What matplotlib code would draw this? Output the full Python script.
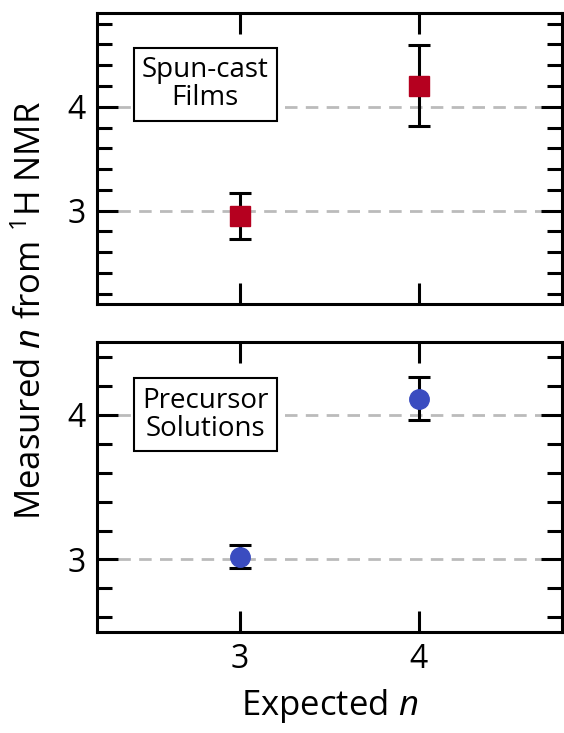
import matplotlib
matplotlib.use("Agg")
import matplotlib.pyplot as plt
from matplotlib.ticker import MultipleLocator

plt.rcParams['font.family'] = ['Open Sans', 'DejaVu Sans']
plt.rcParams['mathtext.fontset'] = 'custom'
plt.rcParams['mathtext.rm'] = 'Open Sans'
plt.rcParams['mathtext.it'] = 'Open Sans:italic'

# Data
expected_n = [3, 4]
films_measured = [2.95, 4.20]
films_err = [0.22, 0.39]
solutions_measured = [3.02, 4.11]
solutions_err = [0.08, 0.15]
ref_levels = [3, 4]

red = '#B5001F'
blue = '#3A4CC0'

fig = plt.figure(figsize=(5.64, 7.33), dpi=100)
ax1 = fig.add_axes([0.172, 0.585, 0.824, 0.397])
ax2 = fig.add_axes([0.172, 0.138, 0.824, 0.395])

def style(ax, ylim):
    ax.set_xlim(2.2, 4.8)
    ax.set_ylim(*ylim)
    ax.set_xticks(expected_n)
    ax.set_yticks([3, 4])
    ax.yaxis.set_minor_locator(MultipleLocator(0.2))
    ax.tick_params(axis='both', which='major', direction='in', length=15, width=2.2,
                   top=True, right=True, labelsize=23, pad=8)
    ax.tick_params(axis='y', which='minor', direction='in', length=11, width=2.2,
                   right=True, left=True)
    for s in ax.spines.values():
        s.set_linewidth(2.2)
    for lv in ref_levels:
        ax.axhline(lv, color='#BBBBBB', lw=2, ls=(0, (4.5, 3)), zorder=0)

style(ax1, (2.1, 4.9))
style(ax2, (2.5, 4.5))
ax1.tick_params(axis='x', labelbottom=False)

ax1.errorbar(expected_n, films_measured, yerr=films_err, fmt='s', color=red,
             markersize=14, ecolor='black', elinewidth=2.2, capsize=8, capthick=2.2, zorder=3)
ax2.errorbar(expected_n, solutions_measured, yerr=solutions_err, fmt='o', color=blue,
             markersize=14, ecolor='black', elinewidth=2.2, capsize=8, capthick=2.2, zorder=3)

bbox = dict(boxstyle='square,pad=0.3', fc='white', ec='black', lw=1.5)
ax1.text(0.233, 0.756, 'Spun-cast\nFilms', transform=ax1.transAxes, ha='center', va='center',
         fontsize=20, linespacing=1.0, bbox=bbox, zorder=4)
ax2.text(0.233, 0.75, 'Precursor\nSolutions', transform=ax2.transAxes, ha='center', va='center',
         fontsize=20, linespacing=1.0, bbox=bbox, zorder=4)

fig.text(0.585, 0.024, 'Expected $n$', ha='center', va='baseline', fontsize=25)
fig.text(0.056, 0.576, 'Measured $n$ from $^{1}$H NMR', rotation=90, ha='center', va='center',
         fontsize=25)

fig.savefig('out.png', dpi=100)
